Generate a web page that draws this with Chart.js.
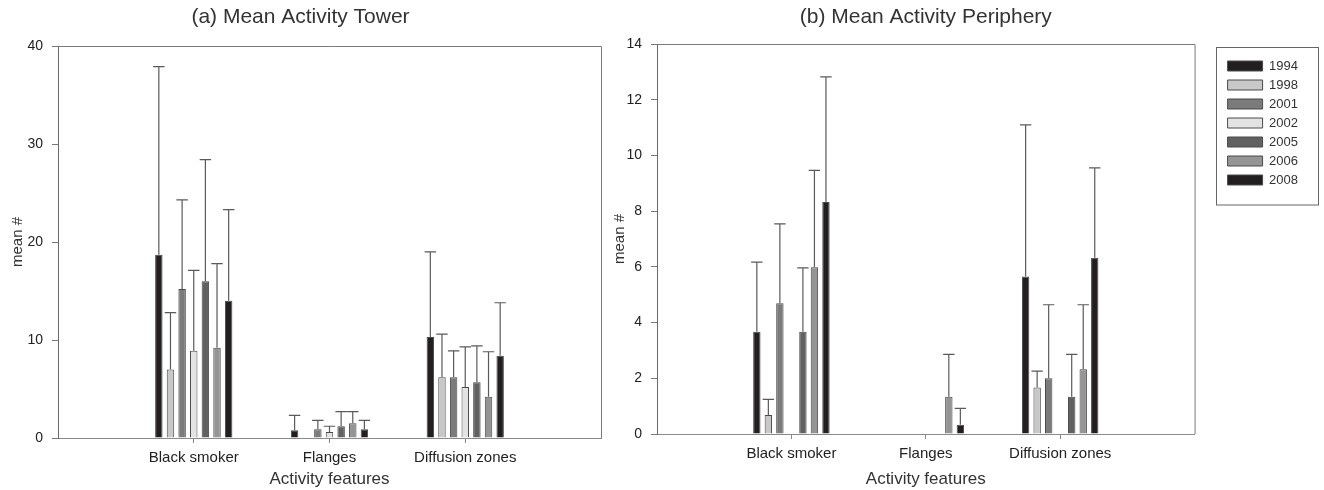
<!DOCTYPE html>
<html>
<head>
<meta charset="utf-8">
<script src="https://cdn.jsdelivr.net/npm/chart.js@4.4.1/dist/chart.umd.min.js"></script>
<style>
  html, body { margin: 0; padding: 0; background: #fff; }
  body { width: 1324px; height: 490px; position: relative; overflow: hidden; }
  #towerChart { position: absolute; left: 0; top: 0; }
  #peripheryChart { position: absolute; left: 604px; top: 0; }
</style>
</head>
<body>
<canvas id="towerChart" width="610" height="490"></canvas>
<canvas id="peripheryChart" width="720" height="490"></canvas>
<script>
// ---- data ----
const categories = ['Black smoker', 'Flanges', 'Diffusion zones'];
const years = ['1994', '1998', '2001', '2002', '2005', '2006', '2008'];
const yearColors = ['#231f20', '#c8c8c8', '#7b7b7b', '#e3e3e3', '#616161', '#959595', '#231f20'];

// (a) tower: one row per year, one value per category
const towerMean = [
    [18.7, 0.8, 10.3],
    [7.0, 0, 6.2],
    [15.2, 0.9, 6.2],
    [8.9, 0.6, 5.2],
    [16.0, 1.2, 5.7],
    [9.2, 1.5, 4.2],
    [14.0, 0.9, 8.4]
];
// upper end of each error bar
const towerErrTop = [
    [37.9, 2.3, 19.0],
    [12.8, 0, 10.6],
    [24.3, 1.8, 8.9],
    [17.1, 1.2, 9.3],
    [28.4, 2.7, 9.4],
    [17.8, 2.7, 8.8],
    [23.3, 1.8, 13.8]
];
const towerTicks = [0, 10, 20, 30, 40];

// (b) periphery
const peripheryMean = [
    [3.67, 0, 5.65],
    [0.68, 0, 1.67],
    [4.69, 0, 2.0],
    [0, 0, 0],
    [3.67, 0, 1.34],
    [5.99, 1.34, 2.32],
    [8.33, 0.33, 6.33]
];
const peripheryErrTop = [
    [6.17, 0, 11.1],
    [1.24, 0, 2.26],
    [7.54, 0, 4.64],
    [0, 0, 0],
    [5.96, 0, 2.86],
    [9.46, 2.86, 4.64],
    [12.82, 0.92, 9.55]
];
const peripheryTicks = [0, 2, 4, 6, 8, 10, 12, 14];

Chart.defaults.font.family = '"Liberation Sans", Arial, sans-serif';
Chart.defaults.color = '#222';

// empty slot on each side of the three categories
const paddedLabels = ['', ...categories, ''];
const pad = arr => [null, ...arr, null];

// draws upward error bars from each bar top
const errorBars = {
    id: 'errorBars',
    afterDatasetsDraw(chart) {
        const ctx = chart.ctx;
        const yScale = chart.scales.y;
        chart.data.datasets.forEach((ds, i) => {
            const meta = chart.getDatasetMeta(i);
            meta.data.forEach((bar, j) => {
                const top = ds.errTop[j];
                const val = ds.data[j];
                if (top == null || val == null || top <= val) return;
                const yTop = yScale.getPixelForValue(top);
                const half = bar.width / 2 + 2;
                ctx.save();
                ctx.strokeStyle = '#5a5a5a';
                ctx.lineWidth = 1.2;
                ctx.beginPath();
                ctx.moveTo(bar.x, bar.y);
                ctx.lineTo(bar.x, yTop);
                ctx.moveTo(bar.x - half, yTop);
                ctx.lineTo(bar.x + half, yTop);
                ctx.stroke();
                ctx.restore();
            });
        });
    }
};

// top and right edge of the plot box
const frame = {
    id: 'frame',
    afterDraw(chart) {
        const { ctx, chartArea: a } = chart;
        ctx.save();
        ctx.strokeStyle = '#7a7a7a';
        ctx.lineWidth = 1;
        ctx.beginPath();
        ctx.moveTo(a.left, a.top + 0.5);
        ctx.lineTo(a.right + 0.5, a.top + 0.5);
        ctx.lineTo(a.right + 0.5, a.bottom);
        ctx.stroke();
        ctx.restore();
    }
};

// move legend away from the plot and put a box round it
const legendBox = {
    id: 'legendBox',
    afterLayout(chart) {
        const lg = chart.legend;
        const dx = 27;
        const dy = (chart.chartArea.top + 9.5) - lg.top;
        lg.left += dx; lg.right += dx;
        lg.top += dy; lg.bottom += dy;
    },
    afterDraw(chart) {
        const hb = chart.legend.legendHitBoxes;
        if (!hb || !hb.length) return;
        const first = hb[0], last = hb[hb.length - 1];
        const ctx = chart.ctx;
        const x = Math.round(first.left - 12) + 0.5;
        const y = Math.round(first.top - 12.5) + 0.5;
        const h = Math.round(last.top + last.height + 18.5) - y;
        ctx.save();
        ctx.strokeStyle = '#666';
        ctx.lineWidth = 1;
        ctx.strokeRect(x, y, 102, h);
        ctx.restore();
    }
};

function buildDatasets(means, errTops) {
    return years.map((yr, i) => ({
        label: yr,
        data: pad(means[i]),
        errTop: pad(errTops[i]),
        backgroundColor: yearColors[i],
        borderColor: '#4a4a4a',
        borderWidth: 1,
        borderSkipped: 'start',
        barPercentage: 0.64,
        categoryPercentage: 0.6
    }));
}

function makeChart(id, cfg) {
    const edgeTick = ctx => (ctx.index === 0 || ctx.index === paddedLabels.length - 1) ? 'rgba(0,0,0,0)' : '#888';
    return new Chart(document.getElementById(id), {
        type: 'bar',
        data: { labels: paddedLabels, datasets: buildDatasets(cfg.means, cfg.errTops) },
        options: {
            responsive: false,
            animation: false,
            layout: { padding: cfg.padding },
            plugins: {
                tooltip: { enabled: false },
                title: {
                    display: true,
                    text: cfg.title,
                    fullSize: cfg.titleFull,
                    color: '#333',
                    font: { size: 21, weight: 'normal' },
                    padding: cfg.titlePad
                },
                legend: cfg.legend
            },
            scales: {
                x: {
                    offset: false,
                    afterFit: s => { s.height = cfg.xHeight; },
                    grid: { offset: false, drawOnChartArea: false, tickLength: 5, color: edgeTick },
                    border: { color: '#8a8a8a' },
                    ticks: { autoSkip: false, maxRotation: 0, padding: 6, font: { size: 15 }, color: '#222' },
                    title: { display: true, text: 'Activity features', font: { size: 17 }, color: '#333', padding: { top: 0, bottom: 0 } }
                },
                y: {
                    min: cfg.ticks[0],
                    max: cfg.ticks[cfg.ticks.length - 1],
                    afterFit: s => { s.width = cfg.yWidth; },
                    grid: { drawOnChartArea: false, tickLength: 6, color: '#777' },
                    border: { color: '#6a6a6a' },
                    ticks: { stepSize: cfg.ticks[1] - cfg.ticks[0], padding: 9, font: { size: 14 }, color: '#222' },
                    title: { display: true, text: 'mean #', font: { size: 15 }, color: '#333', padding: { top: cfg.yTitlePad, bottom: 0 } }
                }
            }
        },
        plugins: cfg.plugins
    });
}

makeChart('towerChart', {
    means: towerMean,
    errTops: towerErrTop,
    ticks: towerTicks,
    title: '(a) Mean Activity Tower',
    titleFull: true,
    titlePad: { top: 5, bottom: 15.8 },
    padding: { left: 0, right: 9, top: 0, bottom: 0 },
    xHeight: 52,
    yWidth: 58,
    yTitlePad: 9,
    legend: { display: false },
    plugins: [errorBars, frame]
});

makeChart('peripheryChart', {
    means: peripheryMean,
    errTops: peripheryErrTop,
    ticks: peripheryTicks,
    title: '(b) Mean Activity Periphery',
    titleFull: false,
    titlePad: { top: 5, bottom: 13.8 },
    padding: { left: 0, right: 43, top: 0, bottom: 0 },
    xHeight: 56,
    yWidth: 53,
    yTitlePad: 7,
    legend: {
        display: true,
        position: 'right',
        align: 'start',
        labels: { boxWidth: 35, boxHeight: 10, padding: 6, color: '#333', font: { size: 13 } }
    },
    plugins: [errorBars, frame, legendBox]
});
</script>
</body>
</html>
